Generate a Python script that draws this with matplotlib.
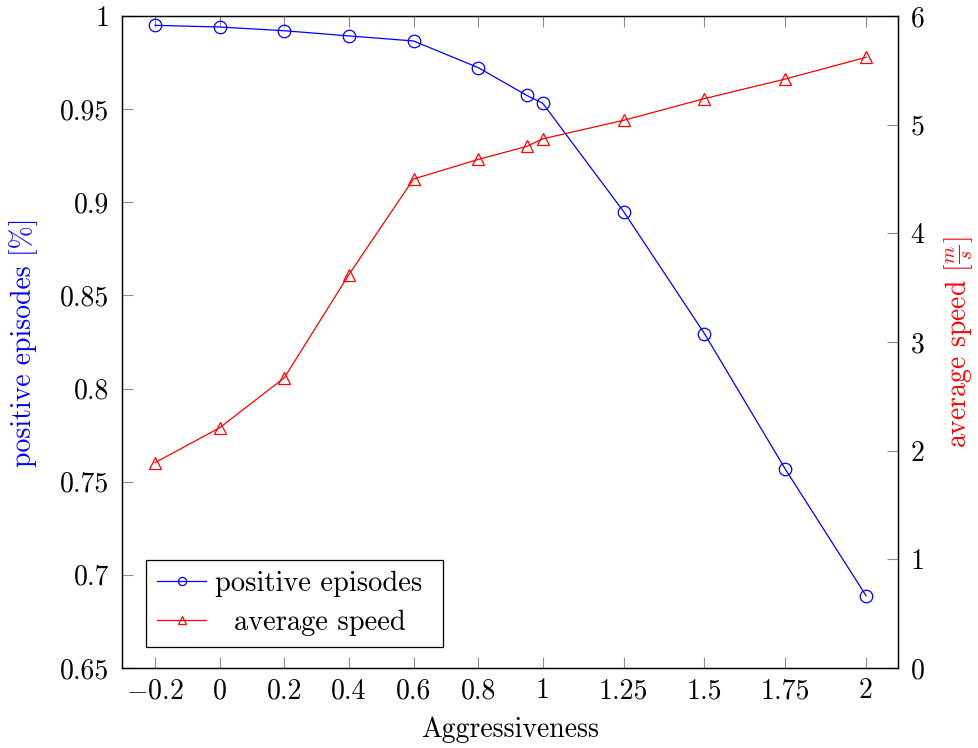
import matplotlib
matplotlib.use("Agg")
import matplotlib.pyplot as plt

aggressiveness = [-0.2, 0.0, 0.2, 0.4, 0.6, 0.8, 0.95, 1.0, 1.25, 1.5, 1.75, 2.0]
positive_episodes = [0.995, 0.9941, 0.9921, 0.9893, 0.9866, 0.9723, 0.9574, 0.9531, 0.895, 0.8295, 0.7568, 0.6888]
average_speed = [1.89, 2.21, 2.67, 3.62, 4.50, 4.68, 4.80, 4.87, 5.04, 5.24, 5.42, 5.62]

xtick_vals = [-0.2, 0.0, 0.2, 0.4, 0.6, 0.8, 1.0, 1.25, 1.5, 1.75, 2.0]
xtick_labels = ["$-0.2$", "0", "0.2", "0.4", "0.6", "0.8", "1", "1.25", "1.5", "1.75", "2"]
left_ticks = [0.65, 0.7, 0.75, 0.8, 0.85, 0.9, 0.95, 1.0]
left_labels = ["0.65", "0.7", "0.75", "0.8", "0.85", "0.9", "0.95", "1"]
right_ticks = [0, 1, 2, 3, 4, 5, 6]

plt.rcParams["font.family"] = "serif"
plt.rcParams["font.serif"] = ["cmr10"]
plt.rcParams["mathtext.fontset"] = "cm"
plt.rcParams["axes.unicode_minus"] = False

fs = 20
fig = plt.figure(figsize=(9.79, 7.48), dpi=100)
ax = fig.add_axes([0.1246, 0.107, 0.7927, 0.8716])
ax2 = ax.twinx()

l1, = ax.plot(aggressiveness, positive_episodes, color="blue", lw=0.9, marker="o",
              markersize=9, markerfacecolor="none", markeredgecolor="blue", markeredgewidth=0.9,
              label="positive episodes")
l2, = ax2.plot(aggressiveness, average_speed, color="red", lw=0.9, marker="^",
               markersize=8, markerfacecolor="none", markeredgecolor="red", markeredgewidth=0.9,
               label="average speed")

ax.set_xlim(-0.302, 2.099)
ax.set_ylim(0.65, 1.0)
ax2.set_ylim(0, 6)

ax.set_xticks(xtick_vals)
ax.set_xticklabels(xtick_labels, fontsize=fs)
ax.set_yticks(left_ticks)
ax.set_yticklabels(left_labels, fontsize=fs)
ax2.set_yticks(right_ticks)
ax2.set_yticklabels([str(v) for v in right_ticks], fontsize=fs)

ax.tick_params(axis="x", direction="in", length=8, width=0.8, color="0.55", top=True, pad=7)
ax.tick_params(axis="y", direction="in", length=8, width=0.8, color="0.55", right=False, pad=9)
ax2.tick_params(axis="y", direction="in", length=8, width=0.8, color="0.55", pad=9)

for a in (ax, ax2):
    for s in a.spines.values():
        s.set_linewidth(0.9)
        s.set_color("black")

ax.set_xlabel("Aggressiveness", fontsize=fs)
ax.xaxis.set_label_coords(0.5, -0.074)
ax.set_ylabel("positive episodes [%]", fontsize=fs, color="blue")
ax.yaxis.set_label_coords(-0.108, 0.5)
ax2.set_ylabel(r"average speed $[\frac{m}{s}]$", fontsize=fs, color="red", rotation=90)
ax2.yaxis.set_label_coords(1.057, 0.5)

leg = ax.legend([l1, l2], ["positive episodes ", "  average speed"], loc="lower left",
                bbox_to_anchor=(0.031, 0.032), borderaxespad=0, frameon=True,
                prop={"size": 20.5}, fancybox=False, edgecolor="black", framealpha=1,
                handlelength=1.72, handletextpad=0.3, borderpad=0.4, labelspacing=0.42,
                markerscale=0.65)
leg.get_frame().set_linewidth(0.9)

fig.savefig("out.png", dpi=100)
